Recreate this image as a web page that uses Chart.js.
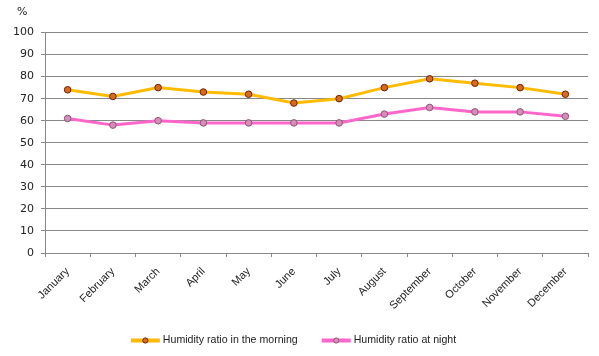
<!DOCTYPE html>
<html><head><meta charset="utf-8">
<script src="https://cdn.jsdelivr.net/npm/chart.js@4"></script>
<style>html,body{margin:0;padding:0;background:#fff}#wrap{width:599px;height:356px}</style>
</head><body><div id="wrap"><canvas id="c" width="599" height="356"></canvas></div>
<script>
const categories = ["January","February","March","April","May","June","July","August","September","October","November","December"];
const morning = [74,71,75,73,72,68,70,75,79,77,75,72];
const night = [61,58,60,59,59,59,59,63,66,64,64,62];
const seriesNames = ["Humidity ratio in the morning","Humidity ratio at night"];
const yTicks = [0,10,20,30,40,50,60,70,80,90,100];
const unitLabel = "%";

const unitPlugin = {
  id:'unit',
  afterDraw(chart){
    const ctx = chart.ctx;
    ctx.save();
    ctx.font = '11px "DejaVu Sans"';
    ctx.fillStyle = '#222';
    ctx.textAlign = 'left'; ctx.textBaseline = 'middle';
    ctx.fillText(unitLabel, 17, 12.5);
    ctx.restore();
  }
};

// legend drawn from the datasets (line + marker icon, then label)
const legendPlugin = {
  id:'lineLegend',
  afterDraw(chart){
    const ctx = chart.ctx;
    const ds = chart.data.datasets;
    const iconW = 29, gap = 3, sep = 24, cy = 340.5;
    ctx.save();
    ctx.font = '10.6px "Liberation Sans"';
    const widths = ds.map(d => ctx.measureText(d.label).width);
    let total = 0;
    widths.forEach((w,i)=>{ total += iconW + gap + w + (i < ds.length-1 ? sep : 0); });
    let x = 293.5 - total/2;
    ds.forEach((d,i)=>{
      ctx.fillStyle = d.borderColor;
      ctx.fillRect(x, cy-2, iconW, 4);
      ctx.beginPath(); ctx.arc(x+iconW/2, cy, 2.6, 0, Math.PI*2);
      ctx.fillStyle = d.pointBackgroundColor; ctx.fill();
      ctx.lineWidth = 1; ctx.strokeStyle = d.pointBorderColor; ctx.stroke();
      x += iconW + gap;
      ctx.fillStyle = '#222'; ctx.textAlign='left'; ctx.textBaseline='middle';
      ctx.fillText(d.label, x, cy);
      x += widths[i] + sep;
    });
    ctx.restore();
  }
};

new Chart(document.getElementById('c'), {
  type:'line',
  data:{
    labels: categories,
    datasets:[
      {label: seriesNames[0], data: morning, borderColor:'#FFBB00', borderWidth:3,
       pointRadius:3.3, pointBackgroundColor:'#D86A1E', pointBorderColor:'#6E2200', pointBorderWidth:1,
       pointStyle: 'circle', tension:0},
      {label: seriesNames[1], data: night, borderColor:'#FF66CC', borderWidth:3,
       pointRadius:3.3, pointBackgroundColor:'#D88CB8', pointBorderColor:'#8A5577', pointBorderWidth:1,
       pointStyle: 'circle', tension:0}
    ]
  },
  options:{
    responsive:false, animation:false, devicePixelRatio:1,
    layout:{padding:{top:32.5,right:11,left:0,bottom:0}},
    plugins:{
      legend:{display:false},
      tooltip:{enabled:false}
    },
    scales:{
      x:{offset:true,
        grid:{offset:true, drawOnChartArea:false, drawTicks:true, tickLength:4, color:'#888'},
        border:{color:'#888'},
        ticks:{minRotation:45, maxRotation:45, autoSkip:false, color:'#222', font:{family:'"Liberation Sans"', size:11}, padding:8},
        afterFit(s){ s.height = 103; }
      },
      y:{min:0,max:100,
        afterBuildTicks(s){ s.ticks = yTicks.map(v=>({value:v})); },
        grid:{color:'#888', tickLength:4},
        border:{color:'#888'},
        ticks:{color:'#222', font:{family:'"DejaVu Sans"', size:11}, padding:7},
        afterFit(s){ s.width = 45; }
      }
    }
  },
  plugins:[unitPlugin, legendPlugin]
});
</script></body></html>
